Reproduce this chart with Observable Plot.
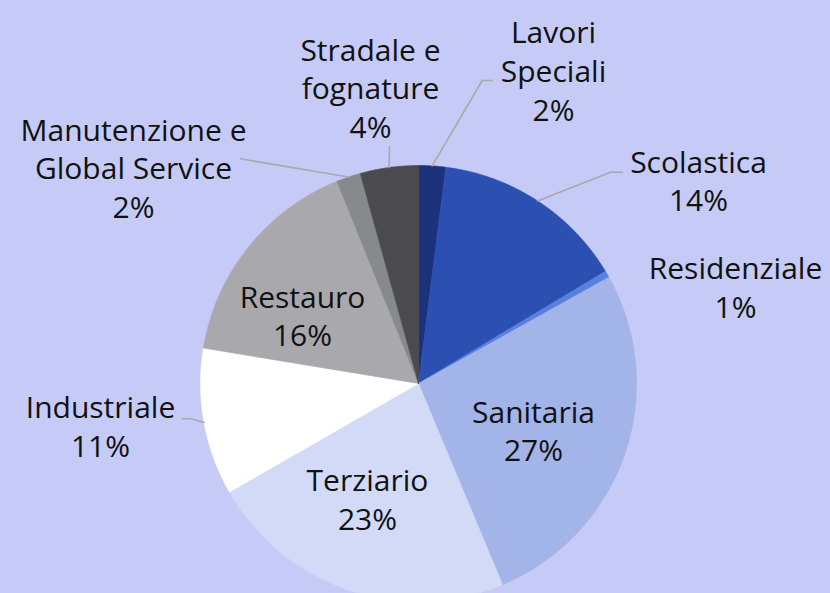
<!DOCTYPE html>
<html>
<head>
<meta charset="utf-8">
<script src="https://cdn.jsdelivr.net/npm/d3@7"></script>
<script src="https://cdn.jsdelivr.net/npm/@observablehq/plot@0.6"></script>
<style>
  html, body { margin: 0; padding: 0; background: #c5cbf6; overflow: hidden; }
  #chart { width: 830px; height: 593px; }
</style>
</head>
<body>
<div id="chart"></div>
<script>
// ---- data ----
const categories = ["Lavori Speciali", "Scolastica", "Residenziale", "Sanitaria", "Terziario", "Industriale", "Restauro", "Manutenzione e Global Service", "Stradale e fognature"];
const shares = [2.0, 14.4, 0.5, 26.8, 23.0, 10.9, 16.3, 1.8, 4.3];
const pctLabels = ["2%", "14%", "1%", "27%", "23%", "11%", "16%", "2%", "4%"];
const displayNames = ["Lavori\nSpeciali", "Scolastica", "Residenziale", "Sanitaria", "Terziario", "Industriale", "Restauro", "Manutenzione e\nGlobal Service", "Stradale e\nfognature"];
const colors = ["#1c327a", "#2b50b2", "#5b7fdd", "#a2b4e8", "#d3daf8", "#ffffff", "#a9a9ad", "#868a8c", "#4b4a4f"];

// ---- layout ----
const W = 830, H = 593;
const cx = 418, cy = 383, R = 218;
// label block centre offsets from the pie centre (px)
const labelOffsets = [[135, -314], [280, -204], [317, -97.5], [115, 46], [-51, 114.5], [-318, 41.5], [-116, -69], [-285, -216.5], [-48, -296.5]];
// leader elbows (offsets from pie centre, in order away from the slice), null = no leader
const leaderElbows = [
  [[63.7, -303], [73.7, -303]],
  [[192, -211.3], [203.7, -211.3]],
  null, null, null,
  [[-228, 35.3], [-236.3, 35.3]],
  null,
  [[-168, -223], [-178, -224.7]],
  [[-29, -237]]
];

const arcs = d3.pie().sort(null).value(d => d).startAngle(0).endAngle(2 * Math.PI)(shares);
const pt = (a, r) => [cx + r * Math.sin(a), cy - r * Math.cos(a)];

// slice polygons
const slicePts = [];
arcs.forEach((a, i) => {
  const n = Math.max(2, Math.ceil((a.endAngle - a.startAngle) / (Math.PI / 360)));
  slicePts.push({name: categories[i], x: cx, y: cy, c: colors[i]});
  for (let k = 0; k <= n; k++) {
    const t = a.startAngle + (a.endAngle - a.startAngle) * k / n;
    const [x, y] = pt(t, R);
    slicePts.push({name: categories[i], x, y, c: colors[i]});
  }
  slicePts.push({name: categories[i], x: cx, y: cy, c: colors[i]});
});

// leader lines
const leaderPts = [];
arcs.forEach((a, i) => {
  if (!leaderElbows[i]) return;
  const mid = (a.startAngle + a.endAngle) / 2;
  const [sx, sy] = pt(mid, R);
  leaderPts.push({name: categories[i], x: sx, y: sy});
  leaderElbows[i].forEach(([dx, dy]) => leaderPts.push({name: categories[i], x: cx + dx, y: cy + dy}));
});

// labels
const labels = categories.map((c, i) => ({
  text: displayNames[i] + "\n" + pctLabels[i],
  x: cx + labelOffsets[i][0],
  y: cy + labelOffsets[i][1]
}));

const chart = Plot.plot({
  width: W,
  height: H,
  margin: 0,
  style: {background: "#c5cbf6", overflow: "hidden"},
  x: {domain: [0, W], range: [0, W], axis: null},
  y: {domain: [0, H], range: [0, H], axis: null},
  marks: [
    Plot.line(slicePts, {x: "x", y: "y", z: "name", fill: "c", stroke: "c", strokeWidth: 0.6, curve: "linear"}),
    Plot.line(leaderPts, {x: "x", y: "y", z: "name", stroke: "#a9a9a9", strokeWidth: 1.6}),
    Plot.text(labels, {
      x: "x", y: "y", text: "text",
      fontFamily: "Open Sans", fontSize: 30, lineHeight: 1.29,
      fill: "#111111", textAnchor: "middle", lineAnchor: "middle",
      letterSpacing: 0.4
    })
  ]
});
document.getElementById("chart").appendChild(chart);
</script>
</body>
</html>
